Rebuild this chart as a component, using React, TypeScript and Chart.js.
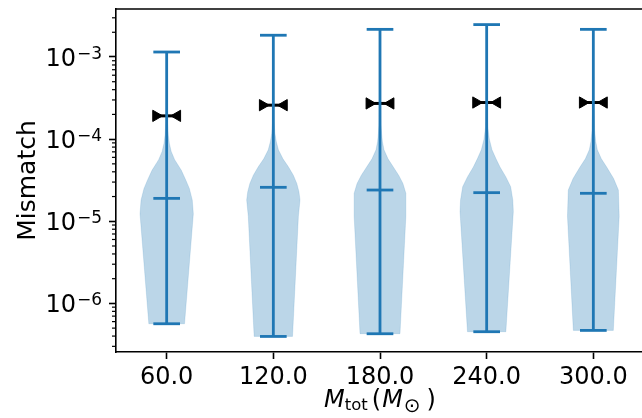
import React, { useEffect, useRef } from 'react';
import { Chart, registerables } from 'chart.js';

Chart.register(...registerables);

// ---------- data ----------
const categories = ['60.0', '120.0', '180.0', '240.0', '300.0'];
const positions = [1, 2, 3, 4, 5];
const maxValues = [1.15e-3, 1.84e-3, 2.17e-3, 2.48e-3, 2.17e-3];
const minValues = [5.65e-7, 3.96e-7, 4.27e-7, 4.52e-7, 4.69e-7];
const midValues = [1.9e-5, 2.59e-5, 2.4e-5, 2.23e-5, 2.19e-5];
const markerValues = [1.92e-4, 2.59e-4, 2.72e-4, 2.79e-4, 2.79e-4];

// violin outlines: log10(level) from top to bottom, and relative half-width (1 = widest)
const profileLog60 = [-2.94, -3.5, -3.8, -3.95, -4.05, -4.15, -4.25, -4.38, -4.5, -4.6, -4.74, -4.91, -6.248];
const profileWidth60 = [0, 0.015, 0.03, 0.06, 0.1, 0.17, 0.3, 0.55, 0.72, 0.85, 0.96, 1.0, 0.67];
const profileLog120 = [-2.735, -3.5, -3.8, -3.93, -4.03, -4.13, -4.24, -4.34, -4.44, -4.54, -4.64, -4.74, -4.94, -6.402];
const profileWidth120 = [0, 0.015, 0.03, 0.06, 0.11, 0.19, 0.36, 0.57, 0.75, 0.88, 0.96, 1.0, 0.94, 0.72];
const profileLog180 = [-2.663, -3.5, -3.8, -3.93, -4.03, -4.13, -4.24, -4.34, -4.44, -4.54, -4.66, -4.94, -6.369];
const profileWidth180 = [0, 0.015, 0.03, 0.06, 0.09, 0.15, 0.3, 0.5, 0.7, 0.86, 0.97, 0.97, 0.75];
const profileLog240 = [-2.606, -3.5, -3.85, -4.0, -4.13, -4.24, -4.34, -4.46, -4.58, -4.74, -4.88, -6.345];
const profileWidth240 = [0, 0.015, 0.04, 0.1, 0.2, 0.35, 0.5, 0.72, 0.9, 0.98, 1.0, 0.72];
const profileLog300 = [-2.663, -3.5, -3.9, -4.03, -4.13, -4.24, -4.34, -4.48, -4.62, -4.94, -6.329];
const profileWidth300 = [0, 0.015, 0.05, 0.09, 0.15, 0.3, 0.5, 0.76, 0.94, 0.97, 0.75];

const profileLogs = [profileLog60, profileLog120, profileLog180, profileLog240, profileLog300];
const profileWidths = [profileWidth60, profileWidth120, profileWidth180, profileWidth240, profileWidth300];

const yMajorTicks = [1e-6, 1e-5, 1e-4, 1e-3];
const yMin = 2.56e-7;
const yMax = 3.84e-3;
const xMin = 0.525;
const xMax = 5.475;

// ---------- style ----------
const BLUE = '#1f77b4';
const FILL = 'rgba(31,119,180,0.3)';
const FONT = 'DejaVu Sans';
const VIOLIN_HALF = 0.25;
const CAP_HALF = 0.125;
const MARKER_OFFSET = 0.1;
const CANVAS_W = 652;
const AREA_RIGHT = 644;

const violinPlugin = {
  id: 'violinPlugin',
  beforeDatasetsDraw(chart: any) {
    const { ctx, scales } = chart;
    const x = scales.x;
    const y = scales.y;
    ctx.save();
    profileLogs.forEach((logs, i) => {
      const widths = profileWidths[i];
      const p = positions[i];
      ctx.beginPath();
      for (let k = 0; k < logs.length; k++) {
        const px = x.getPixelForValue(p - widths[k] * VIOLIN_HALF);
        const py = y.getPixelForValue(Math.pow(10, logs[k]));
        if (k === 0) ctx.moveTo(px, py);
        else ctx.lineTo(px, py);
      }
      for (let k = logs.length - 1; k >= 0; k--) {
        const px = x.getPixelForValue(p + widths[k] * VIOLIN_HALF);
        const py = y.getPixelForValue(Math.pow(10, logs[k]));
        ctx.lineTo(px, py);
      }
      ctx.closePath();
      ctx.fillStyle = FILL;
      ctx.fill();
      ctx.strokeStyle = 'rgba(31,119,180,0.15)';
      ctx.lineWidth = 1;
      ctx.stroke();
    });
    // bowtie connecting bars
    ctx.strokeStyle = '#000';
    ctx.lineWidth = 3;
    positions.forEach((p, i) => {
      const py = y.getPixelForValue(markerValues[i]);
      ctx.beginPath();
      ctx.moveTo(x.getPixelForValue(p - MARKER_OFFSET), py);
      ctx.lineTo(x.getPixelForValue(p + MARKER_OFFSET), py);
      ctx.stroke();
    });
    ctx.restore();
  },
  afterDatasetsDraw(chart: any) {
    const { ctx, scales } = chart;
    const x = scales.x;
    const y = scales.y;
    ctx.save();
    ctx.strokeStyle = BLUE;
    ctx.lineWidth = 2.8;
    ctx.lineCap = 'butt';
    positions.forEach((p, i) => {
      const px = x.getPixelForValue(p);
      ctx.beginPath();
      ctx.moveTo(px, y.getPixelForValue(maxValues[i]));
      ctx.lineTo(px, y.getPixelForValue(minValues[i]));
      ctx.stroke();
      [maxValues[i], minValues[i], midValues[i]].forEach((v) => {
        const py = y.getPixelForValue(v);
        ctx.beginPath();
        ctx.moveTo(x.getPixelForValue(p - CAP_HALF), py);
        ctx.lineTo(x.getPixelForValue(p + CAP_HALF), py);
        ctx.stroke();
      });
    });
    ctx.restore();
  },
  afterDraw(chart: any) {
    const { ctx, scales, chartArea } = chart;
    const y = scales.y;
    ctx.save();
    // top spine
    ctx.strokeStyle = '#000';
    ctx.lineWidth = 1.6;
    ctx.beginPath();
    ctx.moveTo(chartArea.left, chartArea.top);
    ctx.lineTo(chartArea.right, chartArea.top);
    ctx.stroke();
    // minor log ticks
    ctx.lineWidth = 1.2;
    for (let e = -7; e <= -3; e++) {
      for (let m = 2; m <= 9; m++) {
        const v = m * Math.pow(10, e);
        if (v < yMin || v > yMax) continue;
        const py = y.getPixelForValue(v);
        ctx.beginPath();
        ctx.moveTo(chartArea.left - 4, py);
        ctx.lineTo(chartArea.left, py);
        ctx.stroke();
      }
    }
    // y tick labels 10^n
    ctx.fillStyle = '#000';
    ctx.textBaseline = 'alphabetic';
    ctx.textAlign = 'left';
    const labelRight = chartArea.left - 14;
    yMajorTicks.forEach((v) => {
      const py = y.getPixelForValue(v);
      const exp = '\u2212' + String(Math.round(-Math.log10(v)));
      ctx.font = `17px "${FONT}"`;
      const wSup = ctx.measureText(exp).width;
      ctx.font = `24px "${FONT}"`;
      const wBase = ctx.measureText('10').width;
      const x0 = labelRight - wSup - wBase - 1;
      ctx.fillText('10', x0, py + 9);
      ctx.font = `17px "${FONT}"`;
      ctx.fillText(exp, x0 + wBase + 1, py + 1.6);
    });
    // y axis title
    ctx.save();
    ctx.translate(35, (chartArea.top + chartArea.bottom) / 2);
    ctx.rotate(-Math.PI / 2);
    ctx.textAlign = 'center';
    ctx.font = `25px "${FONT}"`;
    ctx.fillText('Mismatch', 0, 0);
    ctx.restore();
    // x axis title: M_tot (M_sun)
    const parts = [
      { t: 'M', f: `italic 24px "${FONT}"`, dy: 0, gap: 0 },
      { t: 'tot', f: `16.5px "${FONT}"`, dy: 3.5, gap: 4 },
      { t: '(', f: `24px "${FONT}"`, dy: 0, gap: 1 },
      { t: 'M', f: `italic 24px "${FONT}"`, dy: 0, gap: 1 },
      { t: '\u2299', f: `20px "${FONT}"`, dy: 5, gap: 6 },
      { t: ')', f: `24px "${FONT}"`, dy: 0, gap: 0 },
    ];
    let total = 0;
    const widths = parts.map((pt) => {
      ctx.font = pt.f;
      const w = ctx.measureText(pt.t).width;
      total += w + pt.gap;
      return w;
    });
    let cx = (chartArea.left + chartArea.right) / 2 - total / 2;
    const base = 406.5;
    parts.forEach((pt, i) => {
      ctx.font = pt.f;
      ctx.fillText(pt.t, cx, base + pt.dy);
      cx += widths[i] + pt.gap;
    });
    ctx.restore();
  },
};

export default function App() {
  const ref = useRef<HTMLCanvasElement>(null);
  useEffect(() => {
    const canvas = ref.current;
    if (!canvas) return;
    const chart = new Chart(canvas, {
      type: 'scatter',
      data: {
        datasets: [
          {
            data: positions.map((p, i) => ({ x: p - MARKER_OFFSET, y: markerValues[i] })),
            pointStyle: 'triangle',
            rotation: 90,
            radius: 6.5,
            backgroundColor: '#000',
            borderColor: '#000',
            borderWidth: 1,
          },
          {
            data: positions.map((p, i) => ({ x: p + MARKER_OFFSET, y: markerValues[i] })),
            pointStyle: 'triangle',
            rotation: -90,
            radius: 6.5,
            backgroundColor: '#000',
            borderColor: '#000',
            borderWidth: 1,
          },
        ],
      },
      options: {
        responsive: false,
        animation: false,
        events: [],
        layout: { padding: { top: 9, left: 0, right: CANVAS_W - AREA_RIGHT, bottom: 0 } },
        plugins: { legend: { display: false }, tooltip: { enabled: false } },
        scales: {
          x: {
            type: 'linear',
            min: xMin,
            max: xMax,
            afterBuildTicks: (s: any) => {
              s.ticks = positions.map((v) => ({ value: v }));
            },
            afterFit: (s: any) => {
              s.height = 66;
              s.paddingLeft = 0;
              s.paddingRight = 0;
              s.paddingTop = 0;
              s.paddingBottom = 0;
            },
            grid: { drawOnChartArea: false, tickLength: 7, tickWidth: 1.6, tickColor: '#000' },
            border: { color: '#000', width: 1.6 },
            ticks: {
              color: '#000',
              font: { family: FONT, size: 24 },
              padding: 4,
              maxRotation: 0,
              autoSkip: false,
              callback: (v: any) => {
                const idx = positions.indexOf(Number(v));
                return idx >= 0 ? categories[idx] : '';
              },
            },
          },
          y: {
            type: 'logarithmic',
            min: yMin,
            max: yMax,
            afterBuildTicks: (s: any) => {
              s.ticks = yMajorTicks.map((v) => ({ value: v, major: true }));
            },
            afterFit: (s: any) => {
              s.width = 116;
              s.paddingLeft = 0;
              s.paddingRight = 0;
              s.paddingTop = 0;
              s.paddingBottom = 0;
            },
            grid: { drawOnChartArea: false, tickLength: 7, tickWidth: 1.6, tickColor: '#000' },
            border: { color: '#000', width: 1.6 },
            ticks: { display: false },
          },
        },
      },
      plugins: [violinPlugin],
    });
    return () => chart.destroy();
  }, []);

  return (
    <div style={{ position: 'fixed', left: 0, top: 0, width: 642, height: 418, overflow: 'hidden', background: '#fff' }}>
      <canvas ref={ref} width={CANVAS_W} height={418} style={{ display: 'block', width: CANVAS_W, height: 418 }} />
    </div>
  );
}
